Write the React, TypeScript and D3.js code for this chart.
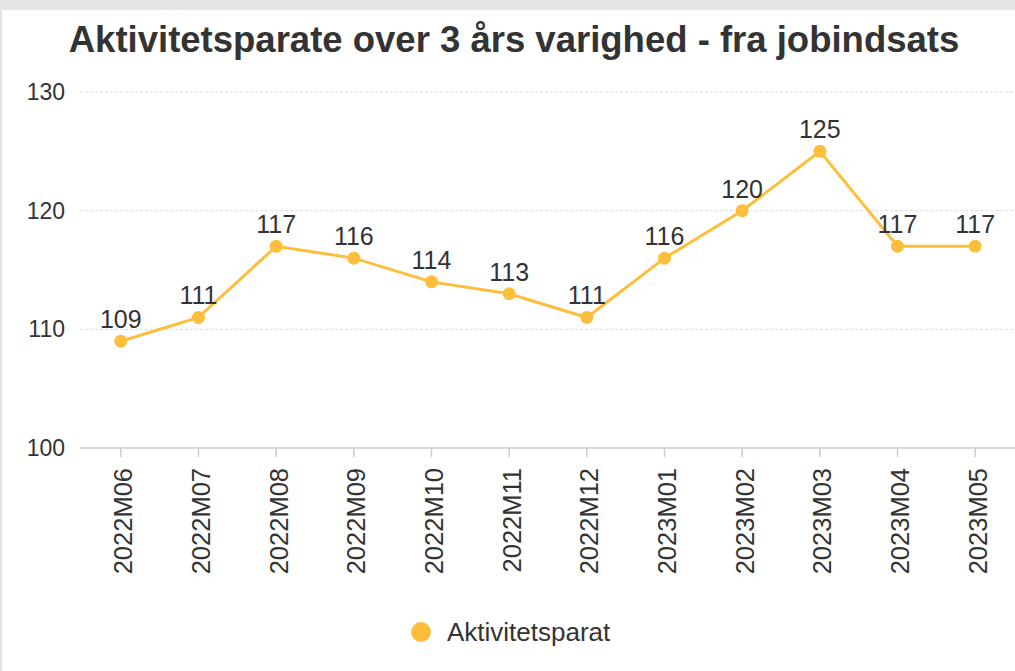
import React from "react";
import * as d3 from "d3";

const months = [
  "2022M06", "2022M07", "2022M08", "2022M09", "2022M10", "2022M11",
  "2022M12", "2023M01", "2023M02", "2023M03", "2023M04", "2023M05",
];
const aktivitetsparat = [109, 111, 117, 116, 114, 113, 111, 116, 120, 125, 117, 117];
const yTicks = [100, 110, 120, 130];

const title = "Aktivitetsparate over 3 års varighed - fra jobindsats";
const seriesName = "Aktivitetsparat";

export default function App() {
  const width = 1015;
  const height = 671;
  const margin = { top: 92, right: 1, bottom: 223, left: 82 };
  const lineColor = "#fdbf3b";
  const font = "'Liberation Sans', Arial, Helvetica, sans-serif";

  const x = d3
    .scaleBand<string>()
    .domain(months)
    .range([margin.left, width - margin.right])
    .paddingInner(0)
    .paddingOuter(0);

  const y = d3
    .scaleLinear()
    .domain([100, 130])
    .range([height - margin.bottom, margin.top]);

  const cx = (m: string) => (x(m) ?? 0) + x.bandwidth() / 2;

  const line = d3
    .line<number>()
    .x((_, i) => cx(months[i]))
    .y((d) => y(d));

  return (
    <div style={{ position: "fixed", left: 0, top: 0 }}>
      <svg width={width} height={height} style={{ display: "block", background: "#fff" }}>
        <rect x={0} y={0} width={width} height={10} fill="#e6e4e6" />
        <line x1={1} x2={1} y1={10} y2={height} stroke="#e3e3e3" strokeWidth={2} />

        <text
          x={514}
          y={52}
          textAnchor="middle"
          fontFamily={font}
          fontWeight="bold"
          fontSize={36.5}
          fill="#333"
        >
          {title}
        </text>

        {yTicks.map((t) => (
          <g key={t}>
            {t !== 100 && (
              <line
                x1={80}
                x2={width}
                y1={y(t)}
                y2={y(t)}
                stroke="#dcdcdc"
                strokeDasharray="3,2"
              />
            )}
            <text
              x={65}
              y={y(t)}
              dy="0.35em"
              textAnchor="end"
              fontFamily={font}
              fontSize={23}
              fill="#333"
            >
              {t}
            </text>
          </g>
        ))}

        <line x1={80} x2={width} y1={y(100)} y2={y(100)} stroke="#ccc" strokeWidth={1.5} />

        {months.map((m) => (
          <g key={m}>
            <line x1={cx(m)} x2={cx(m)} y1={y(100)} y2={y(100) + 9} stroke="#ccc" strokeWidth={1.5} />
            <text
              transform={`translate(${cx(m)},${y(100) + 20}) rotate(-90)`}
              textAnchor="end"
              dy="0.45em"
              fontFamily={font}
              fontSize={25.5}
              fill="#333"
            >
              {m}
            </text>
          </g>
        ))}

        <path d={line(aktivitetsparat) ?? ""} fill="none" stroke={lineColor} strokeWidth={3} />

        {aktivitetsparat.map((v, i) => (
          <g key={months[i]}>
            <circle cx={cx(months[i])} cy={y(v)} r={6.5} fill={lineColor} />
            <text
              x={cx(months[i])}
              y={y(v) - 13}
              textAnchor="middle"
              fontFamily={font}
              fontSize={25}
              fill="#333"
            >
              {v}
            </text>
          </g>
        ))}

        <circle cx={421} cy={632} r={10} fill={lineColor} />
        <text x={447} y={632} dy="0.35em" fontFamily={font} fontSize={26} fill="#333">
          {seriesName}
        </text>
      </svg>
    </div>
  );
}
